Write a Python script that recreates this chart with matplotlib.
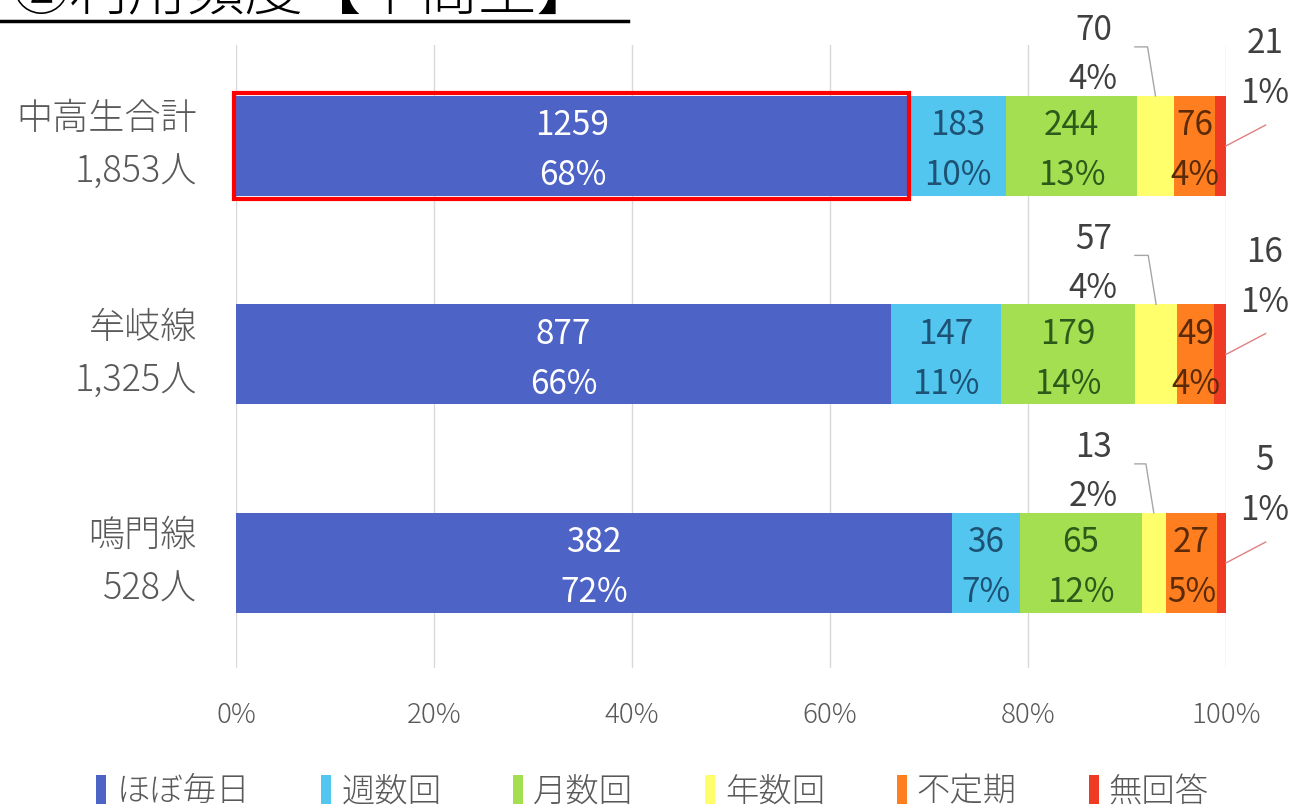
import matplotlib
matplotlib.use('Agg')
import matplotlib.pyplot as plt
from matplotlib.patches import Rectangle
from matplotlib.lines import Line2D
import numpy as np

plt.rcParams['font.family'] = ['Noto Sans CJK JP', 'DejaVu Sans']
plt.rcParams['font.weight'] = 'light'

# chart data
title = '②利用頻度【中高生】'
groups = ['中高生合計\n1,853人', '牟岐線\n1,325人', '鳴門線\n528人']
categories = ['ほぼ毎日', '週数回', '月数回', '年数回', '不定期', '無回答']
daily = [1259, 877, 382]
weekly = [183, 147, 36]
monthly = [244, 179, 65]
yearly = [70, 57, 13]
irregular = [76, 49, 27]
no_answer = [21, 16, 5]
x_ticks = [0, 0.2, 0.4, 0.6, 0.8, 1.0]
x_tick_labels = ['0%', '20%', '40%', '60%', '80%', '100%']

colors = ['#4e63c6', '#52c6ef', '#a3df50', '#ffff6b', '#ff7f20', '#ef3b24']
text_colors = ['white', '#1d5274', '#2c5a1b', None, '#5b2a08', None]

fig = plt.figure(figsize=(13.05, 8.11), dpi=100)
ax = fig.add_axes([236 / 1305, 143 / 811, 990 / 1305, 623 / 811])

data = np.array([daily, weekly, monthly, yearly, irregular, no_answer], dtype=float).T
totals = data.sum(axis=1)
shares = data / totals[:, None]
ypos = np.arange(len(groups))
bh = 0.48
lab = dict(ha='center', va='center', fontsize=24, fontweight='normal')

left = np.zeros(len(groups))
for j, cat in enumerate(categories):
    ax.barh(ypos, shares[:, j], left=left, height=bh, color=colors[j], label=cat, zorder=2)
    for i in range(len(groups)):
        n = int(data[i, j])
        pct = f'{int(round(shares[i, j] * 100))}%'
        cx = left[i] + shares[i, j] / 2
        if text_colors[j]:
            ax.text(cx, ypos[i] - 0.096, str(n), color=text_colors[j], zorder=4, **lab)
            ax.text(cx, ypos[i] + 0.144, pct, color=text_colors[j], zorder=4, **lab)
        elif j == 3:
            # small yellow slice: label above with leader line
            ax.text(0.866, ypos[i] - 0.552, str(n), color='#404040', **lab)
            ax.text(0.866, ypos[i] - 0.317, pct, color='#404040', **lab)
            yl = ypos[i] - 0.475
            ax.plot([0.908, cx - 0.008, cx], [yl, yl, ypos[i] - bh / 2], color='#a6a6a6', lw=1,
                    clip_on=False, zorder=3)
        else:
            ax.text(1.039, ypos[i] - 0.49, str(n), color='#404040', clip_on=False, **lab)
            ax.text(1.039, ypos[i] - 0.25, pct, color='#404040', clip_on=False, **lab)
            ax.plot([1.04, 1.0], [ypos[i] - 0.1, ypos[i]], color='#e08080', lw=1, clip_on=False, zorder=3)
    left += shares[:, j]

# red highlight box around the first blue segment
ax.add_patch(Rectangle((-0.0025, -0.255), shares[0, 0] + 0.003, 0.51, fill=False,
                       edgecolor='#ff0000', lw=3, clip_on=False, zorder=5))

ax.set_xlim(0, 1)
ax.set_ylim(2.504, -0.484)
ax.set_xticks(x_ticks)
ax.set_xticklabels(x_tick_labels, fontsize=20, color='#595959')
ax.set_yticks(ypos)
ax.set_yticklabels([])
for y, g in zip(ypos, groups):
    ax.text(-0.0394, y, g, transform=ax.get_yaxis_transform(), ha='right', va='center',
            fontsize=26, color='#595959', linespacing=1.52, multialignment='right')
ax.tick_params(length=0)
ax.tick_params(axis='x', pad=23.5)
ax.grid(axis='x', color='#d9d9d9', lw=1)
ax.set_axisbelow(True)
for s in ax.spines.values():
    s.set_visible(False)

leg = fig.legend(ncol=6, loc='center', bbox_to_anchor=(0.5, 19 / 811), frameon=False, fontsize=24,
                 handlelength=0.3, handleheight=0.95, handletextpad=0.3, columnspacing=2.15)
for t in leg.get_texts():
    t.set_color('#595959')

# title, mostly cut off at the top edge
fig.text(595 / 1305, (811 - 10) / 811, title, ha='right', va='baseline', fontsize=42, color='black')
fig.add_artist(Line2D([0, 628 / 1305], [(811 - 21) / 811] * 2, color='black', lw=2.5,
                      transform=fig.transFigure))

fig.savefig('out.png', dpi=100)
